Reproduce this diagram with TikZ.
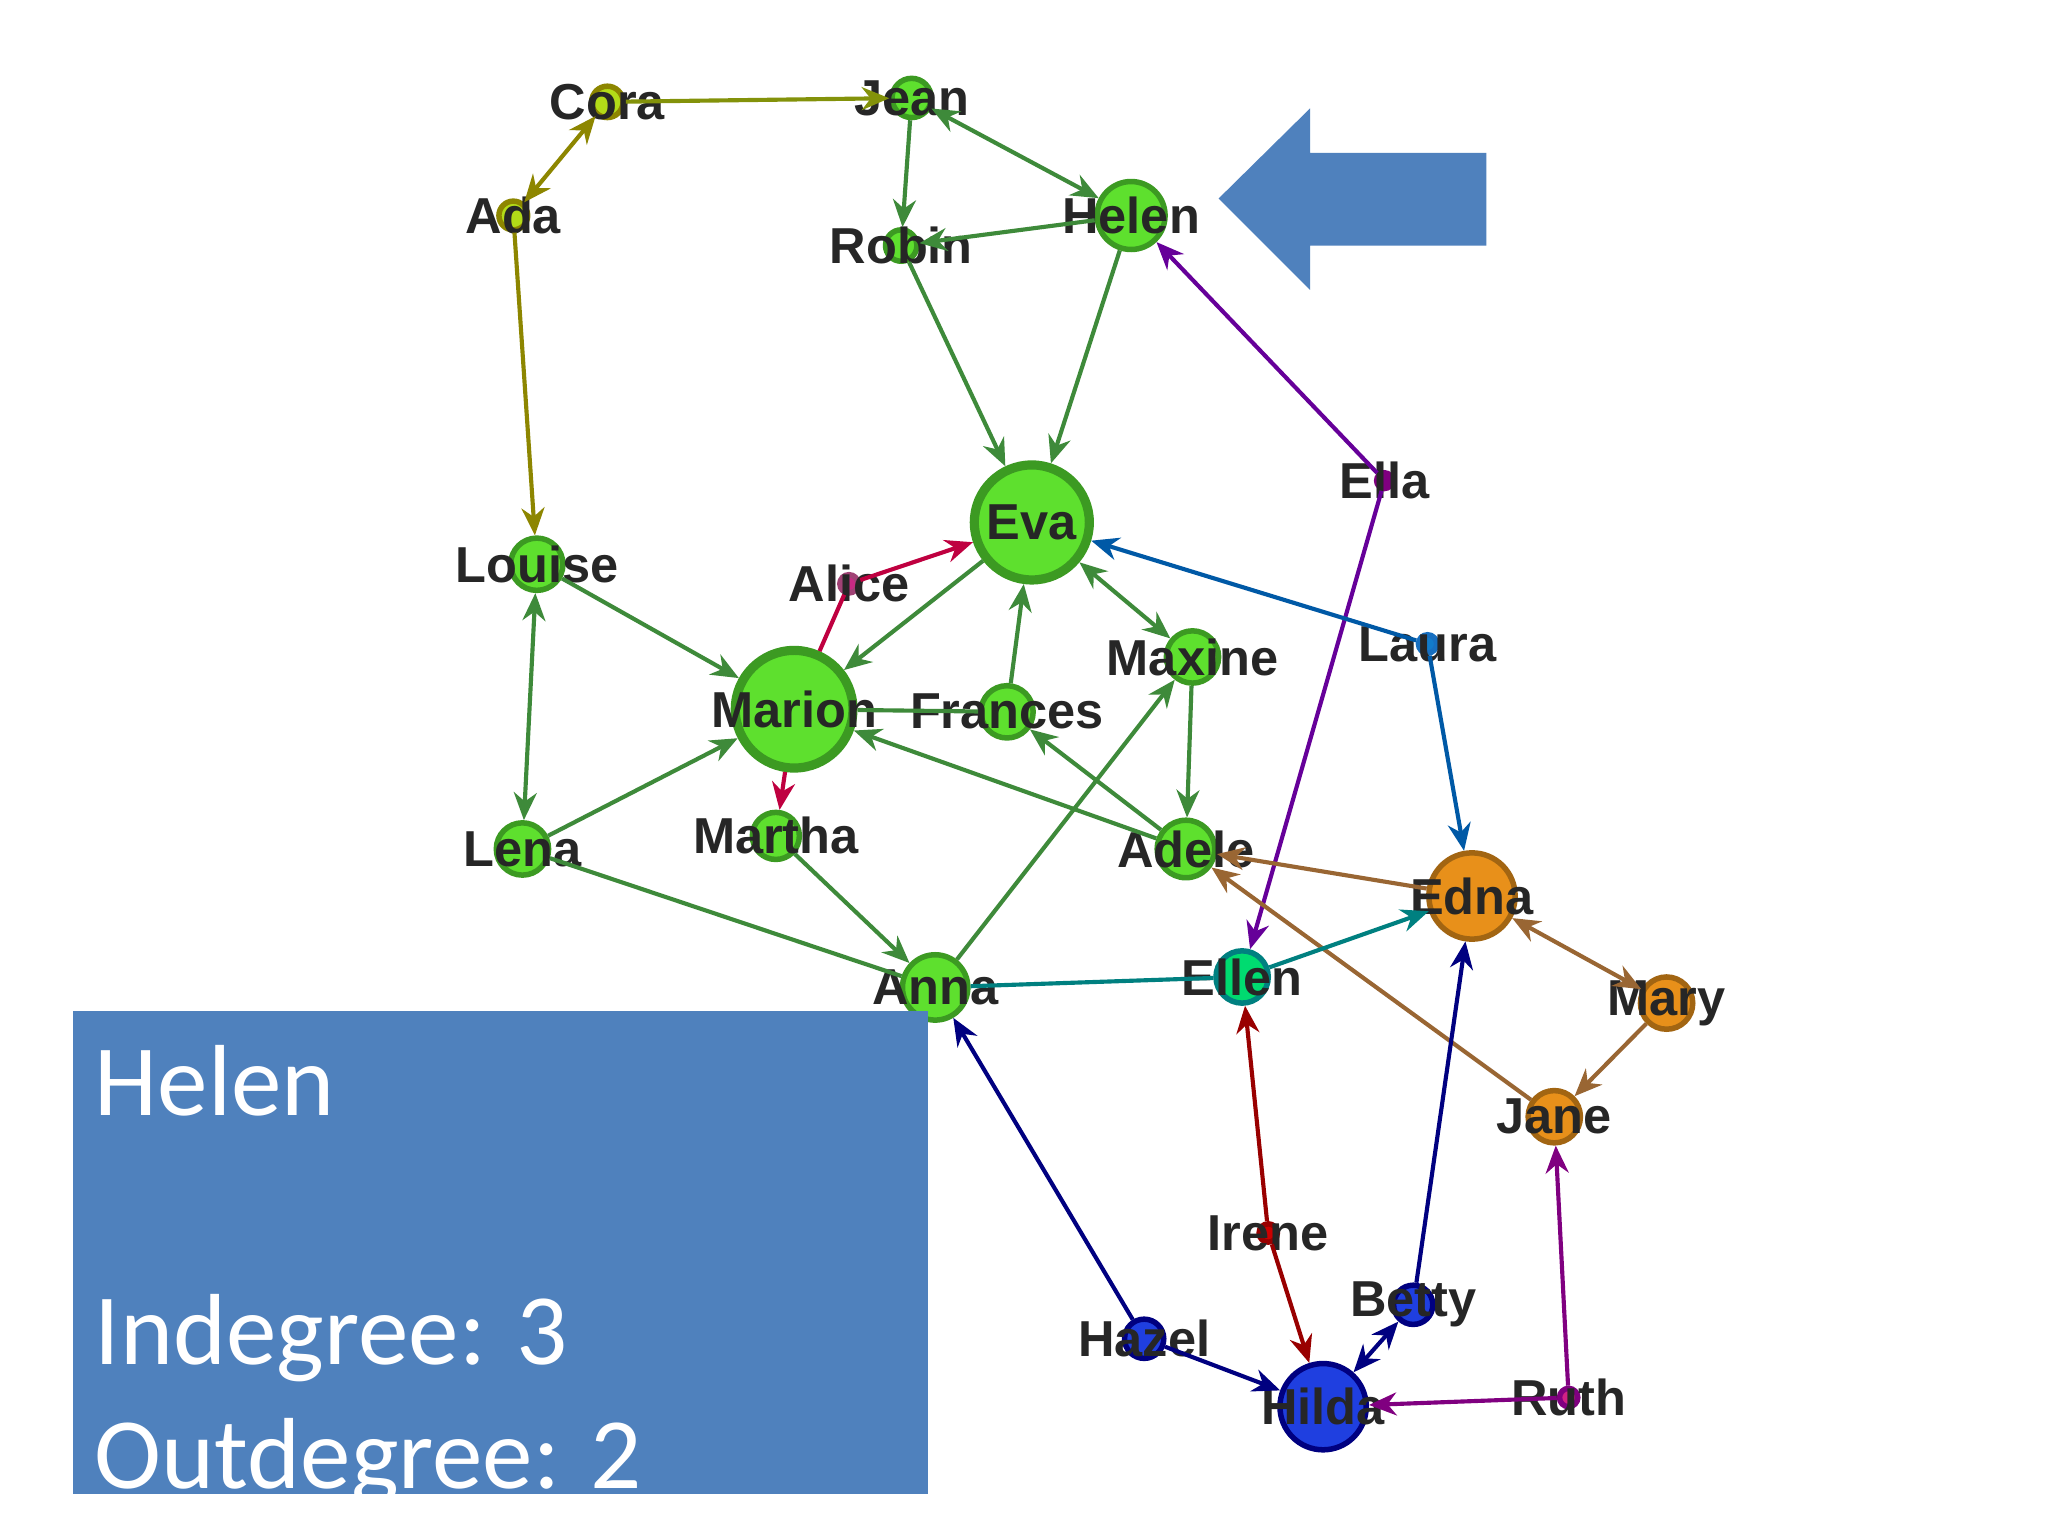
\documentclass[tikz,border=0pt]{standalone}
\usepackage{fontspec}
\setmainfont{Liberation Sans}
\newfontfamily\calib{Carlito}
\usetikzlibrary{arrows.meta,shapes.arrows}
\definecolor{gfill}{HTML}{5EE02E}
\definecolor{gdraw}{HTML}{3C9A22}
\definecolor{ofill}{HTML}{E8901A}
\definecolor{bfill}{HTML}{1F3FE0}
\definecolor{pbox}{HTML}{4F81BD}
\definecolor{eg}{HTML}{3E8A3A}
\begin{document}
\begin{tikzpicture}[x=0.01cm,y=-0.01cm,
 v/.style={circle,draw=gdraw,fill=gfill,line width=1.2pt,inner sep=0pt,minimum size=#1*0.02cm},
 lab/.style={label={[font=\bfseries\fontsize{11}{12}\selectfont,text=black!85]center:#1}},
 e/.style={draw=#1,line width=0.9pt,-{Stealth[length=6pt,width=5pt]}},
 ee/.style={draw=#1,line width=0.9pt,{Stealth[length=6pt,width=5pt]}-{Stealth[length=6pt,width=5pt]}},
 l/.style={draw=#1,line width=0.9pt}]
\useasboundingbox (0,0) rectangle (1568,1176);
\fill[white] (0,0) rectangle (1568,1176);
% nodes
\node[v=12,fill=yellow!70!green,draw=olive,lab=Cora] (cora) at (465,78) {};
\node[v=15,lab=Jean] (jean) at (698,75) {};
\node[v=11,fill=yellow!70!green,draw=olive,lab=Ada] (ada) at (393,165) {};
\node[v=12,lab=Robin] (robin) at (690,188) {};
\node[v=26,lab=Helen] (helen) at (866,165) {};
\node[v=44,line width=2pt,lab=Eva] (eva) at (790,400) {};
\node[v=6,fill=violet,draw=violet,lab=Ella] (ella) at (1060,368) {};
\node[v=20,lab=Louise] (louise) at (411,432) {};
\node[v=7,fill=magenta!80!black,draw=magenta!60!black,lab=Alice] (alice) at (650,447) {};
\node[v=20,lab=Maxine] (maxine) at (913,503) {};
\node[v=7,fill=cyan!60!blue,draw=cyan!50!blue,lab=Laura] (laura) at (1093,493) {};
\node[v=45,line width=2pt,lab=Marion] (marion) at (608,543) {};
\node[v=20,lab=Frances] (frances) at (771,545) {};
\node[v=20,lab=Lena] (lena) at (400,650) {};
\node[v=18,lab=Martha] (martha) at (594,640) {};
\node[v=22,lab=Adele] (adele) at (908,650) {};
\node[v=33,fill=ofill,draw=ofill!70!black,lab=Edna] (edna) at (1127,686) {};
\node[v=25,lab=Anna] (anna) at (716,756) {};
\node[v=20,fill=teal!40!green!70!cyan,draw=teal,lab=Ellen] (ellen) at (951,748) {};
\node[v=20,fill=ofill,draw=ofill!70!black,lab=Mary] (mary) at (1276,768) {};
\node[v=20,fill=ofill,draw=ofill!70!black,lab=Jane] (jane) at (1190,855) {};
\node[v=7,fill=red!80!black,draw=red!60!black,lab=Irene] (irene) at (971,944) {};
\node[v=15,fill=bfill,draw=blue!50!black,lab=Betty] (betty) at (1082,999) {};
\node[v=15,fill=bfill,draw=blue!50!black,lab=Hazel] (hazel) at (876,1025) {};
\node[v=33,fill=bfill,draw=blue!50!black,lab=Hilda] (hilda) at (1013,1077) {};
\node[v=7,fill=magenta!70!violet,draw=violet,lab=Ruth] (ruth) at (1201,1070) {};
% edges
\begin{scope}[on background layer/.style={}]
\path[e=olive!80!green] (cora) -- (jean);
\path[ee=olive] (cora) -- (ada);
\path[e=eg] (jean) -- (robin);
\path[ee=eg] (jean) -- (helen);
\path[e=eg] (helen) -- (robin);
\path[e=olive] (ada) -- (louise);
\path[e=eg] (robin) -- (eva);
\path[e=eg] (helen) -- (eva);
\path[e=violet!80!blue] (ella) -- (helen);
\path[e=violet!80!blue] (ella) -- (ellen);
\path[e=eg] (eva) -- (marion);
\path[e=purple] (alice) -- (eva);
\path[l=purple] (alice) -- (marion);
\path[e=eg] (louise) -- (marion);
\path[ee=eg] (louise) -- (lena);
\path[e=eg] (lena) -- (marion);
\path[l=eg] (lena) -- (anna);
\path[ee=eg] (eva) -- (maxine);
\path[e=eg] (frances) -- (eva);
\path[l=eg] (marion) -- (frances);
\path[e=eg] (maxine) -- (adele);
\path[e=eg] (adele) -- (frances);
\path[e=eg] (adele) -- (marion);
\path[e=purple] (marion) -- (martha);
\path[e=eg] (martha) -- (anna);
\path[e=eg] (anna) -- (maxine);
\path[e=teal!70!blue] (laura) -- (eva);
\path[e=teal!70!blue] (laura) -- (edna);
\path[e=brown!80!black] (edna) -- (adele);
\path[e=brown!80!black] (jane) -- (adele);
\path[ee=brown!80!black] (edna) -- (mary);
\path[e=brown!80!black] (mary) -- (jane);
\path[e=teal] (ellen) -- (edna);
\path[l=teal] (ellen) -- (anna);
\path[e=red!60!black] (irene) -- (ellen);
\path[e=red!60!black] (irene) -- (hilda);
\path[e=blue!50!black] (hazel) -- (anna);
\path[e=blue!50!black] (hazel) -- (hilda);
\path[e=blue!50!black] (betty) -- (edna);
\path[ee=blue!50!black] (betty) -- (hilda);
\path[e=violet] (ruth) -- (hilda);
\path[e=violet] (ruth) -- (jane);
\end{scope}
% pointer arrow
\fill[pbox] (933,152) -- (1003,83) -- (1003,117) -- (1138,117) -- (1138,188) -- (1003,188) -- (1003,222) -- cycle;
% info box
\node[fill=pbox,minimum width=655*0.01cm,minimum height=370*0.01cm,inner sep=0pt,anchor=north west] (box) at (55,773) {};
\node[anchor=north west,text=white,font=\calib\fontsize{22}{27}\selectfont,align=left,inner sep=0pt] (info) at (72,800)
 {Helen\\[27pt]Indegree: 3\\Outdegree: 2};
\end{tikzpicture}
\end{document}
